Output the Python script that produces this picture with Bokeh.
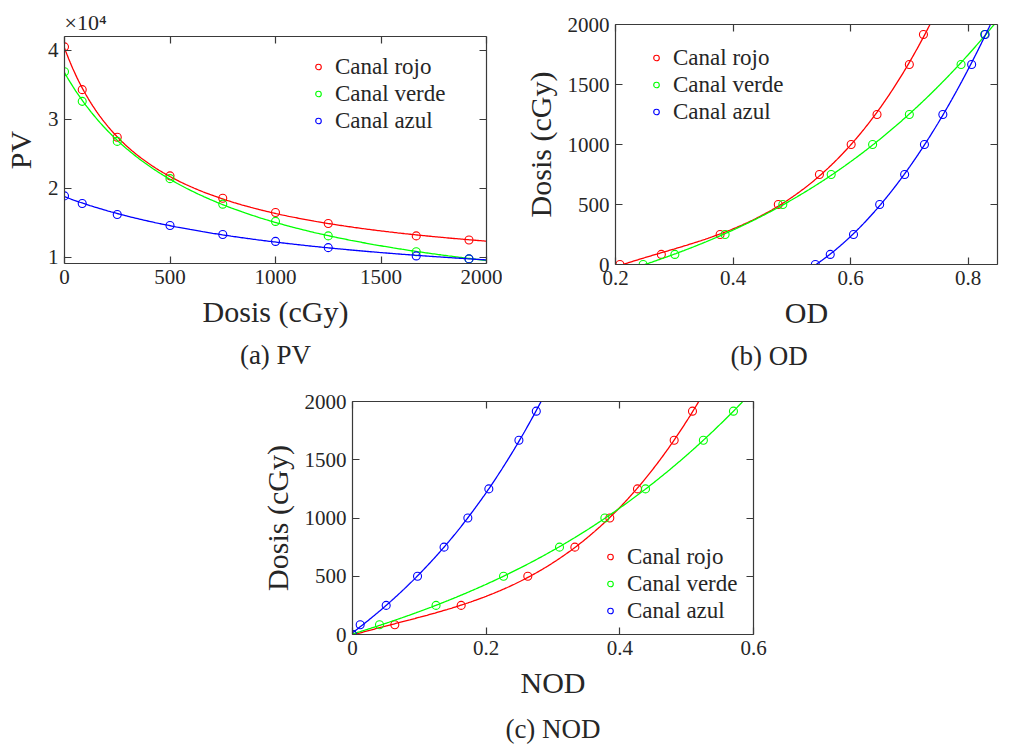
import numpy as np
from bokeh.plotting import figure
from bokeh.models import Range1d, FixedTicker, LinearAxis, Legend, LegendItem, Title
from bokeh.layouts import column, row
from bokeh.embed import file_html
from bokeh.resources import INLINE

# ---------------- data ----------------
dosis = [0, 84, 250, 500, 750, 1000, 1250, 1667, 1917]          # cGy

# (a) PV, in units of 1e4
pv_rojo  = [4.05, 3.43, 2.74, 2.18, 1.855, 1.65, 1.49, 1.31, 1.25]
pv_verde = [3.69, 3.26, 2.68, 2.14, 1.77, 1.52, 1.31, 1.08, 0.977]
pv_azul  = [1.89, 1.78, 1.62, 1.46, 1.33, 1.23, 1.14, 1.02, 0.977]

# (b) OD
od_rojo  = [0.2075, 0.278, 0.378, 0.477, 0.547, 0.601, 0.645, 0.700, 0.724]
od_verde = [0.247, 0.301, 0.3865, 0.4847, 0.567, 0.6375, 0.700, 0.788, 0.828]
od_azul  = [0.540, 0.5654, 0.605, 0.6495, 0.692, 0.7257, 0.757, 0.806, 0.829]

# (c) NOD
nod_rojo  = [0, 0.0633, 0.1626, 0.2623, 0.3327, 0.385, 0.4264, 0.4813, 0.5087]
nod_verde = [0, 0.0404, 0.125, 0.226, 0.3097, 0.3776, 0.4384, 0.525, 0.570]
nod_azul  = [0, 0.0115, 0.0504, 0.0973, 0.137, 0.1726, 0.204, 0.249, 0.275]

canales = ["Canal rojo", "Canal verde", "Canal azul"]
colores = ["#ff0000", "#00ff00", "#0000ff"]

pv_ticks_x = [0, 500, 1000, 1500, 2000]
pv_ticks_y = [1, 2, 3, 4]
od_ticks_x = [0.2, 0.4, 0.6, 0.8]
nod_ticks_x = [0, 0.2, 0.4, 0.6]
dosis_ticks = [0, 500, 1000, 1500, 2000]

FONT = "'Liberation Serif', serif"
TXT = "#262626"
AXC = "#3a3a3a"


# ---------------- fits (least squares on the read points) ----------------
def fit_pv(d, pv):
    d = np.asarray(d, float)
    pv = np.asarray(pv, float)
    best = None
    for c in np.linspace(50, 6000, 1200):
        A = np.column_stack([np.ones_like(d), 1.0 / (d + c)])
        coef, res, *_ = np.linalg.lstsq(A, pv, rcond=None)
        r = np.sum((A @ coef - pv) ** 2)
        if best is None or r < best[0]:
            best = (r, c, coef)
    _, c, (a, b) = best
    xs = np.linspace(0, 2000, 300)
    return xs, a + b / (xs + c)


def fit_poly(x, d, xmax):
    coef = np.polyfit(np.asarray(x, float), np.asarray(d, float), 3)
    xs = np.linspace(x[0], xmax, 400)
    ys = np.polyval(coef, xs)
    keep = ys <= 2300
    return xs[keep], ys[keep]


def style(p, xticks, yticks, xlabel, ylabel, xover=None):
    bottom = p.below[0]
    left = p.left[0]
    bottom.ticker = FixedTicker(ticks=xticks)
    left.ticker = FixedTicker(ticks=yticks)
    if xover:
        bottom.major_label_overrides = xover
    bottom.axis_label = xlabel
    left.axis_label = ylabel
    top = LinearAxis(ticker=FixedTicker(ticks=xticks),
                     major_label_overrides={t: "" for t in xticks})
    right = LinearAxis(ticker=FixedTicker(ticks=yticks),
                       major_label_overrides={t: "" for t in yticks})
    p.add_layout(top, "above")
    p.add_layout(right, "right")
    for ax in (bottom, left, top, right):
        ax.major_tick_in = 7
        ax.major_tick_out = 0
        ax.minor_tick_line_color = None
        ax.axis_line_color = AXC
        ax.axis_line_width = 1.2
        ax.major_tick_line_color = AXC
        ax.major_tick_line_width = 1.2
        ax.major_label_text_font = FONT
        ax.major_label_text_color = TXT
        ax.major_label_text_font_size = "21px"
        ax.axis_label_text_font = FONT
        ax.axis_label_text_color = TXT
        ax.axis_label_text_font_style = "normal"
        ax.axis_label_text_font_size = "30px"
        ax.major_label_standoff = 6
        ax.axis_label_standoff = 8
    for ax in (top, right):
        ax.major_label_standoff = 0
    p.xgrid.visible = False
    p.ygrid.visible = False
    p.outline_line_color = None
    p.background_fill_color = "white"
    p.border_fill_color = "white"


def add_series(p, xs_list, ys_list, curves, loc):
    items = []
    for (xs, ys), (cx, cy), lab, col in zip(zip(xs_list, ys_list), curves, canales, colores):
        p.line(cx, cy, line_color=col, line_width=1.3)
        r = p.scatter(xs, ys, marker="circle", size=8, fill_color=None,
                      line_color=col, line_width=1.1)
        items.append(LegendItem(label=lab, renderers=[r]))
    leg = Legend(items=items, location=loc, padding=0, margin=0, spacing=0,
                 label_height=27, glyph_height=27, glyph_width=14, label_standoff=10,
                 border_line_alpha=0, background_fill_alpha=0,
                 label_text_font=FONT, label_text_font_size="23px",
                 label_text_color=TXT)
    p.add_layout(leg)


def caption(p, text, align="center", offset=0, standoff=10):
    t = Title(text=text, align=align, offset=offset, text_font=FONT,
              text_font_size="27px", text_font_style="normal", text_color=TXT,
              standoff=standoff)
    p.add_layout(t, "below")


# ---------------- (a) PV ----------------
pa = figure(frame_width=422, frame_height=227, min_border_left=62, min_border_right=16,
            min_border_top=36, min_border_bottom=117,
            x_range=Range1d(0, 2000), y_range=Range1d(0.91, 4.2),
            output_backend="svg", toolbar_location=None, title="\u00d710\u2074")
pa.title.align = "left"
pa.title.offset = 0
pa.title.text_font = FONT
pa.title.text_font_size = "22px"
pa.title.text_font_style = "normal"
pa.title.text_color = TXT
pa.title.standoff = 4
style(pa, pv_ticks_x, pv_ticks_y, "Dosis (cGy)", "PV")
curves_a = [fit_pv(dosis, v) for v in (pv_rojo, pv_verde, pv_azul)]
add_series(pa, [dosis] * 3, [pv_rojo, pv_verde, pv_azul], curves_a, (247, 129))
caption(pa, "(a) PV", standoff=14)

# ---------------- (b) OD ----------------
pb = figure(frame_width=382, frame_height=240, min_border_left=113, min_border_right=17,
            min_border_top=24, min_border_bottom=116,
            x_range=Range1d(0.2, 0.85), y_range=Range1d(0, 2000),
            output_backend="svg", toolbar_location=None)
style(pb, od_ticks_x, dosis_ticks, "OD", "Dosis (cGy)")
curves_b = [fit_poly(v, dosis, 0.85) for v in (od_rojo, od_verde, od_azul)]
add_series(pb, [od_rojo, od_verde, od_azul], [dosis] * 3, curves_b, (34, 139))
caption(pb, "(b) OD", align="left", offset=115, standoff=14)

# ---------------- (c) NOD ----------------
pc = figure(frame_width=401, frame_height=233, min_border_left=352, min_border_right=20,
            min_border_top=21, min_border_bottom=110,
            x_range=Range1d(0, 0.6), y_range=Range1d(0, 2000),
            output_backend="svg", toolbar_location=None)
style(pc, nod_ticks_x, dosis_ticks, "NOD", "Dosis (cGy)", xover={0: "0"})
curves_c = [fit_poly(v, dosis, 0.6) for v in (nod_rojo, nod_verde, nod_azul)]
add_series(pc, [nod_rojo, nod_verde, nod_azul], [dosis] * 3, curves_c, (251, 10))
caption(pc, "(c) NOD", standoff=20)

layout = column(row(column(pa), column(pb)), pc)
open("out.html", "w").write(file_html(layout, INLINE))
